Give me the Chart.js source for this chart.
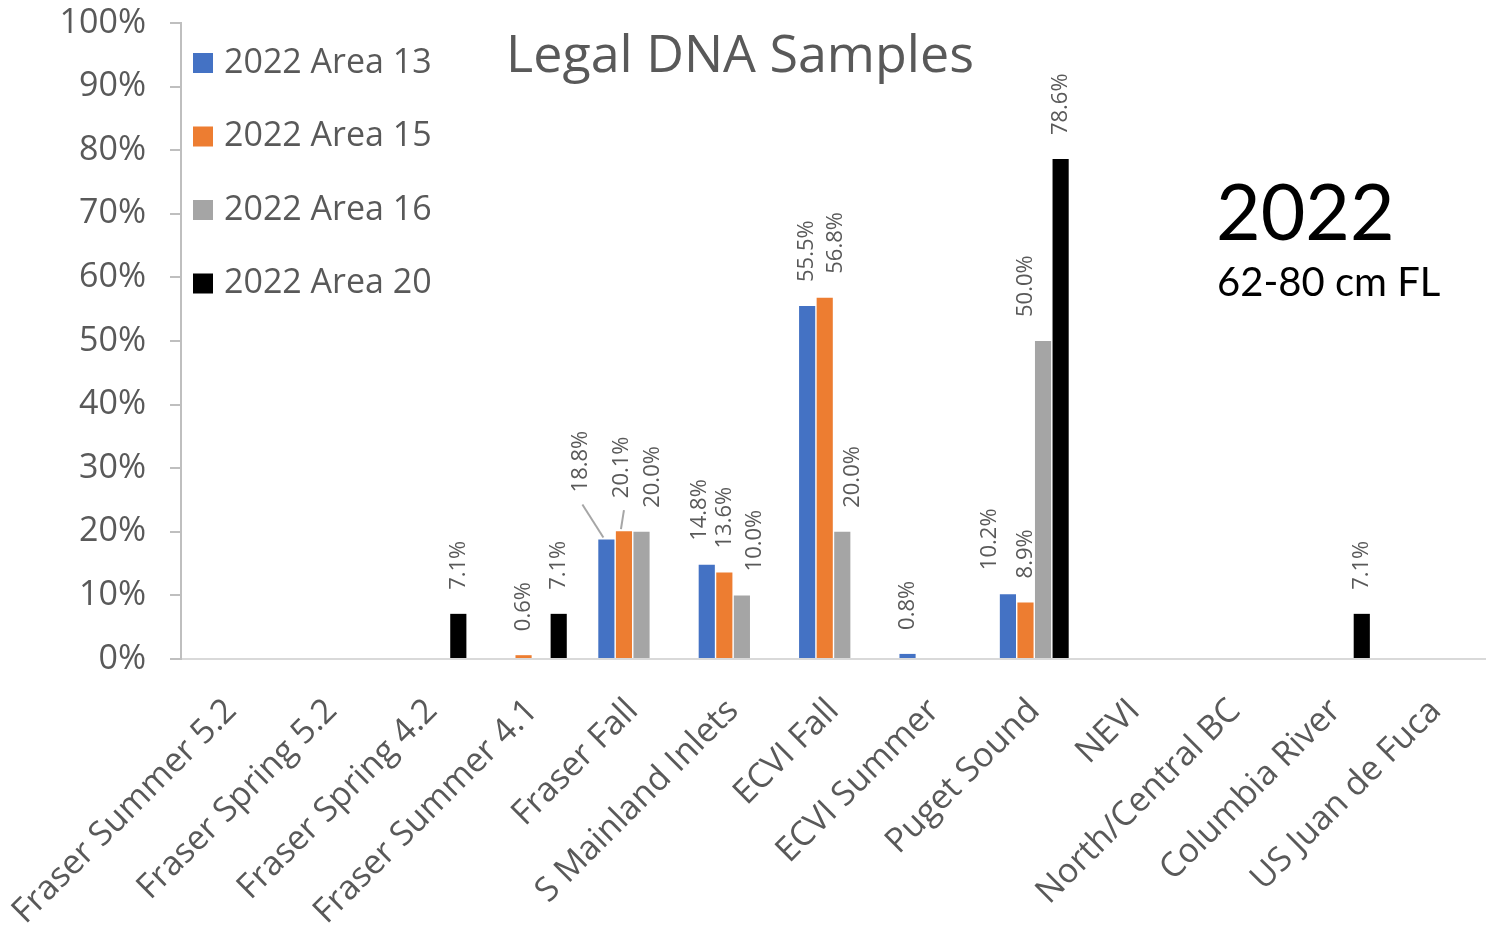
<!DOCTYPE html>
<html>
<head>
<meta charset="utf-8">
<script src="https://cdn.jsdelivr.net/npm/chart.js@4"></script>
<style>
    html, body { margin: 0; padding: 0; background: #fff; }
    #wrap { position: relative; width: 1486px; height: 925px; }
</style>
</head>
<body>
<div id="wrap"><canvas id="dna-chart" width="1486" height="925"></canvas></div>
<script>
const stocks = ['Fraser Summer 5.2', 'Fraser Spring 5.2', 'Fraser Spring 4.2', 'Fraser Summer 4.1', 'Fraser Fall',
    'S Mainland Inlets', 'ECVI Fall', 'ECVI Summer', 'Puget Sound', 'NEVI', 'North/Central BC', 'Columbia River', 'US Juan de Fuca'];
const area13 = [0, 0, 0, 0, 18.8, 14.8, 55.5, 0.8, 10.2, 0, 0, 0, 0];
const area15 = [0, 0, 0, 0.6, 20.1, 13.6, 56.8, 0, 8.9, 0, 0, 0, 0];
const area16 = [0, 0, 0, 0, 20.0, 10.0, 20.0, 0, 50.0, 0, 0, 0, 0];
const area20 = [0, 0, 7.1, 7.1, 0, 0, 0, 0, 78.6, 0, 0, 7.1, 0];
const yTicks = [0, 10, 20, 30, 40, 50, 60, 70, 80, 90, 100];

const GREY_TEXT = '#595959';
const FONT = '"Open Sans", "Liberation Sans", sans-serif';

// label nudges (dataset:index -> [dx, dy, leader]) - Excel shuffled a few labels around
const labelNudge = {
    '0:4': [-26, -23, true],
    '1:4': [-2, -9, true],
    '2:4': [11, 0],
    '0:5': [-7, 0],
    '2:5': [13, 0],
    '1:6': [11, 0],
    '2:6': [10, 0],
    '0:8': [-18, 0],
    '2:8': [-17, 0]
};

const barLabels = {
    id: 'barLabels',
    afterDatasetsDraw(chart) {
        const ctx = chart.ctx;
        chart.data.datasets.forEach((ds, di) => {
            const meta = chart.getDatasetMeta(di);
            meta.data.forEach((bar, i) => {
                const v = ds.data[i];
                if (!v) return;
                const n = labelNudge[di + ':' + i] || [0, 0];
                const x = bar.x + n[0];
                const yb = bar.y - 24 + n[1];
                ctx.save();
                if (n[2]) {
                    ctx.strokeStyle = '#a6a6a6';
                    ctx.lineWidth = 2;
                    ctx.beginPath();
                    ctx.moveTo(bar.x - 3, bar.y - 2);
                    ctx.lineTo(x + 2, yb + 12);
                    ctx.stroke();
                }
                ctx.translate(x, yb);
                ctx.rotate(-Math.PI / 2);
                ctx.font = '22px ' + FONT;
                ctx.fillStyle = GREY_TEXT;
                ctx.textAlign = 'left';
                ctx.textBaseline = 'middle';
                ctx.fillText(v.toFixed(1) + '%', 0, 0);
                ctx.restore();
            });
        });
    }
};

const extras = {
    id: 'extras',
    afterDraw(chart) {
        const ctx = chart.ctx;
        ctx.save();
        // legend
        ctx.font = '34px ' + FONT;
        ctx.textBaseline = 'middle';
        ctx.textAlign = 'left';
        chart.data.datasets.forEach((ds, i) => {
            const y = 63 + i * 73.5;
            ctx.fillStyle = ds.backgroundColor;
            ctx.fillRect(193, y - 10, 20, 20);
            ctx.fillStyle = GREY_TEXT;
            ctx.fillText(ds.label, 224, y);
        });
        // title
        ctx.font = '52px ' + FONT;
        ctx.textAlign = 'center';
        ctx.fillText('Legal DNA Samples', 740, 57);
        // year / size note
        ctx.fillStyle = '#000';
        ctx.textAlign = 'left';
        ctx.textBaseline = 'alphabetic';
        ctx.font = '77px Lato, ' + FONT;
        ctx.fillText('2022', 1216, 240);
        ctx.font = '40px Lato, ' + FONT;
        ctx.fillText('62-80 cm FL', 1217, 296);
        ctx.restore();
    }
};

const ctx = document.getElementById('dna-chart').getContext('2d');
new Chart(ctx, {
    type: 'bar',
    data: {
        labels: stocks,
        datasets: [
            { label: '2022 Area 13', data: area13, backgroundColor: '#4472C4' },
            { label: '2022 Area 15', data: area15, backgroundColor: '#ED7D31' },
            { label: '2022 Area 16', data: area16, backgroundColor: '#A5A5A5' },
            { label: '2022 Area 20', data: area20, backgroundColor: '#000000' }
        ]
    },
    options: {
        responsive: false,
        animation: false,
        categoryPercentage: 0.7,
        barPercentage: 0.92,
        layout: { padding: { left: 0, right: 0, top: 23, bottom: 0 } },
        plugins: {
            legend: { display: false },
            title: { display: false },
            tooltip: { enabled: false }
        },
        scales: {
            x: {
                grid: { display: false },
                border: { display: true, color: '#d9d9d9', width: 2 },
                ticks: {
                    color: GREY_TEXT,
                    font: { family: FONT, size: 34 },
                    minRotation: 45,
                    maxRotation: 45,
                    autoSkip: false,
                    padding: 24
                },
                afterFit: (s) => {
                    s.height = 266;
                    s.paddingLeft = 0;
                    s.paddingRight = 0;
                }
            },
            y: {
                min: 0,
                max: 100,
                afterBuildTicks: (s) => { s.ticks = yTicks.map(v => ({ value: v })); },
                grid: { display: true, drawOnChartArea: false, tickLength: 11, color: '#bfbfbf', lineWidth: 2 },
                border: { display: true, color: '#bfbfbf', width: 2 },
                ticks: {
                    color: GREY_TEXT,
                    font: { family: FONT, size: 34 },
                    padding: 24,
                    callback: (v) => v + '%'
                },
                afterFit: (s) => {
                    s.width = 181;
                    s.paddingTop = 0;
                    s.paddingBottom = 0;
                }
            }
        }
    },
    plugins: [barLabels, extras]
});
</script>
</body>
</html>
